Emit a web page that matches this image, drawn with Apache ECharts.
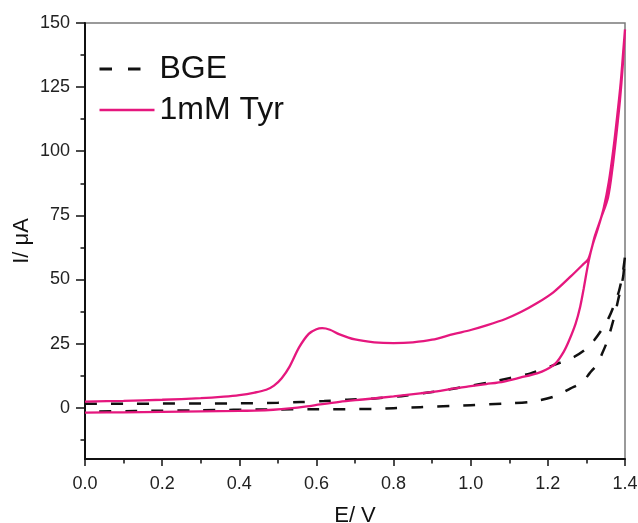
<!DOCTYPE html>
<html>
<head>
<meta charset="utf-8">
<script src="https://cdn.jsdelivr.net/npm/echarts@6/dist/echarts.min.js"></script>
<style>
  html, body { margin: 0; padding: 0; background: #ffffff; }
  #chart { width: 638px; height: 523px; }
</style>
</head>
<body>
<div id="chart"></div>
<script>
// Cyclic voltammograms: potential E (V) vs current I (µA), each path traced forward then back.
const seriesNames = ['BGE', '1mM Tyr'];

const bgeE = [
  0.00, 0.10, 0.20, 0.30, 0.40, 0.50, 0.56, 0.62, 0.68, 0.75, 0.82, 0.895, 0.955, 1.00, 1.05, 1.10,
  1.155, 1.215, 1.268, 1.30, 1.320, 1.340, 1.359, 1.373, 1.385, 1.394, 1.400,
  1.396, 1.390, 1.382, 1.374, 1.365, 1.354, 1.341, 1.328, 1.308, 1.29, 1.259, 1.215, 1.155, 1.086,
  1.00, 0.955, 0.869, 0.80, 0.748, 0.60, 0.47, 0.30, 0.13, 0.00
];
const bgeI = [
  1.5, 1.5, 1.6, 1.6, 1.7, 1.9, 2.2, 2.6, 3.1, 3.6, 4.5, 6.0, 7.4, 8.6, 9.9, 11.5,
  13.4, 16.6, 19.8, 23.0, 26.3, 30.5, 35.4, 40.5, 45.8, 52.3, 59.0,
  52.0, 47.0, 41.9, 36.5, 31.5, 26.0, 21.2, 17.0, 13.4, 10.0, 7.5, 4.3, 2.3, 1.6,
  1.0, 0.7, 0.2, -0.2, -0.5, -0.6, -0.7, -1.0, -1.3, -1.5
];

const tyrE = [
  0.00, 0.10, 0.20, 0.30, 0.36, 0.40, 0.44, 0.47, 0.49, 0.51, 0.53, 0.555, 0.58, 0.60, 0.615, 0.635,
  0.66, 0.70, 0.75, 0.80, 0.85, 0.90, 0.955, 1.00, 1.043, 1.09, 1.13, 1.17, 1.215, 1.26, 1.29, 1.305,
  1.322, 1.338, 1.356, 1.368, 1.378, 1.387, 1.394, 1.400,
  1.396, 1.389, 1.380, 1.370, 1.358, 1.345, 1.330, 1.316, 1.307, 1.300, 1.293, 1.284, 1.272, 1.255,
  1.241, 1.220, 1.195, 1.172, 1.13, 1.086, 1.04, 1.00, 0.956, 0.921, 0.869, 0.80, 0.72, 0.66, 0.61,
  0.575, 0.53, 0.488, 0.44, 0.40, 0.30, 0.20, 0.10, 0.00
];
const tyrI = [
  2.4, 2.7, 3.1, 3.7, 4.3, 4.9, 5.9, 7.0, 8.6, 11.5, 15.9, 23.5, 28.8, 30.6, 31.0, 30.4,
  28.6, 26.6, 25.5, 25.2, 25.5, 26.5, 28.7, 30.3, 32.2, 34.6, 37.3, 40.6, 45.1, 51.3, 55.7, 58.0,
  67.0, 74.0, 82.0, 94.0, 107.0, 120.0, 133.0, 147.5,
  140.0, 127.0, 114.0, 101.0, 88.0, 78.0, 70.0, 63.5, 58.0, 52.5, 46.5, 39.5, 32.8, 26.2,
  21.8, 17.3, 14.8, 13.4, 11.8, 10.2, 9.2, 8.4, 7.5, 6.6, 5.6, 4.4, 3.2, 2.3, 1.3,
  0.5, -0.3, -0.8, -1.1, -1.2, -1.4, -1.6, -1.8, -1.9
];

// Axis ticks
const yMajorTicks = [0, 25, 50, 75, 100, 125, 150];
const yMinorTicks = [-12.5, 12.5, 37.5, 62.5, 87.5, 112.5, 137.5];

const FONT = "'Liberation Sans', Arial, sans-serif";
const PINK = '#e5177e';

const pairs = (xs, ys) => xs.map((x, i) => [x, ys[i]]);

const chart = echarts.init(document.getElementById('chart'), null, { renderer: 'canvas' });

chart.setOption({
  animation: false,
  backgroundColor: '#ffffff',
  grid: {
    left: 85, right: 13, top: 23, bottom: 64,
    containLabel: false,
    outerBoundsMode: 'none',
    show: true, borderColor: '#7a7a7a', borderWidth: 1.5, backgroundColor: 'transparent'
  },
  legend: {
    orient: 'vertical',
    left: 93,
    top: 46,
    itemWidth: 55,
    itemHeight: 14,
    itemGap: 5,
    textStyle: { fontFamily: FONT, fontSize: 32, color: '#111', lineHeight: 36 },
    data: [
      { name: seriesNames[0], itemStyle: { opacity: 0 },
        lineStyle: { type: [12.5, 16], width: 3, color: '#111' } },
      { name: seriesNames[1], itemStyle: { opacity: 0 },
        lineStyle: { type: 'solid', width: 2.5, color: PINK } }
    ]
  },
  xAxis: {
    type: 'value',
    min: 0, max: 1.4, interval: 0.2,
    name: 'E/ V',
    nameLocation: 'middle',
    nameGap: 46,
    nameMoveOverlap: false,
    nameTextStyle: { fontFamily: FONT, fontSize: 22, color: '#111' },
    axisLine: { show: true, onZero: false, lineStyle: { color: '#111', width: 2 } },
    axisTick: { show: true, inside: false, length: 7, lineStyle: { color: '#111', width: 1.5 } },
    minorTick: { show: true, splitNumber: 2, length: 4.5, lineStyle: { color: '#111', width: 1.5 } },
    splitLine: { show: false },
    axisLabel: {
      fontFamily: FONT, fontSize: 18, color: '#222', margin: 16,
      formatter: v => v.toFixed(1)
    }
  },
  yAxis: [
    {
      type: 'value',
      min: -20, max: 150,
      position: 'left',
      name: 'I/ μA',
      nameLocation: 'middle',
      nameRotate: 90,
      nameGap: 52,
      nameMoveOverlap: false,
      nameTextStyle: { fontFamily: FONT, fontSize: 22, color: '#111' },
      axisLine: { show: true, onZero: false, lineStyle: { color: '#111', width: 2 } },
      axisTick: { show: true, inside: false, length: 9, customValues: yMajorTicks,
        lineStyle: { color: '#111', width: 1.5 } },
      splitLine: { show: false },
      axisLabel: { fontFamily: FONT, fontSize: 18, color: '#222', margin: 15, customValues: yMajorTicks }
    },
    {
      type: 'value',
      min: -20, max: 150,
      position: 'left',
      axisLine: { show: false, onZero: false },
      axisTick: { show: true, inside: false, length: 4.5, customValues: yMinorTicks,
        lineStyle: { color: '#111', width: 1.5 } },
      splitLine: { show: false },
      axisLabel: { show: false }
    }
  ],
  series: [
    {
      name: seriesNames[0],
      type: 'line',
      data: pairs(bgeE, bgeI),
      showSymbol: false,
      symbol: 'none',
      smooth: 0.3,
      lineStyle: { color: '#111', width: 2.5, type: [12, 14] },
      itemStyle: { color: '#111' },
      z: 2
    },
    {
      name: seriesNames[1],
      type: 'line',
      data: pairs(tyrE, tyrI),
      showSymbol: false,
      symbol: 'none',
      smooth: 0.3,
      lineStyle: { color: PINK, width: 2.3 },
      itemStyle: { color: PINK },
      z: 3
    }
  ]
});
</script>
</body>
</html>
